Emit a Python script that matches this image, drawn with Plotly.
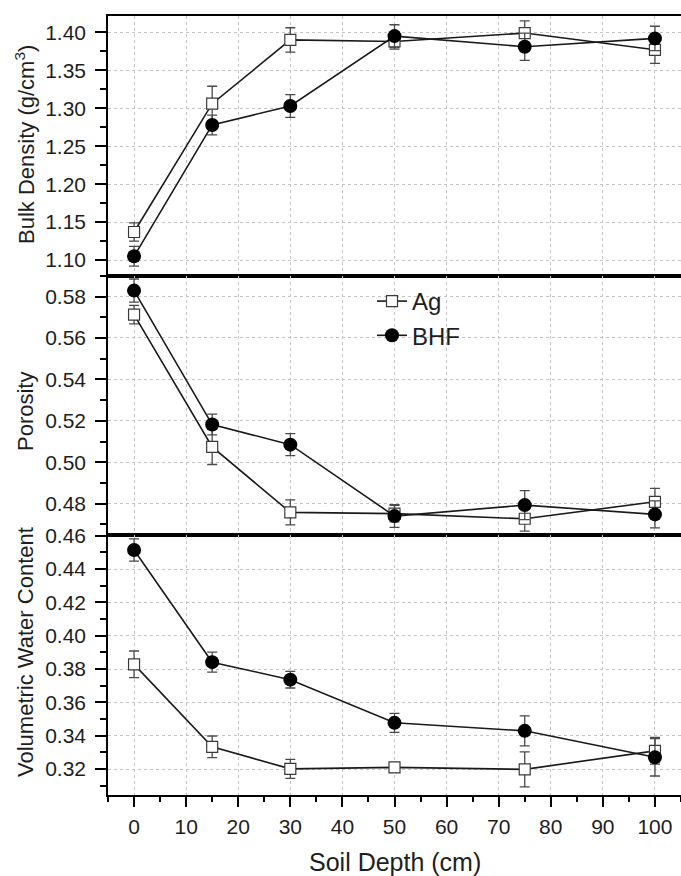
import plotly.graph_objects as go
from plotly.subplots import make_subplots

depth = [0, 15, 30, 50, 75, 100]

bd_ag = [1.137, 1.306, 1.390, 1.388, 1.399, 1.377]
bd_ag_err = [0.012, 0.023, 0.016, 0.010, 0.016, 0.018]
bd_bhf = [1.105, 1.278, 1.303, 1.395, 1.381, 1.392]
bd_bhf_err = [0.013, 0.013, 0.015, 0.015, 0.018, 0.016]

por_ag = [0.5713, 0.5074, 0.4758, 0.4752, 0.4727, 0.4809]
por_ag_err = [0.0045, 0.0085, 0.006, 0.004, 0.006, 0.0065]
por_bhf = [0.5829, 0.5182, 0.5085, 0.4740, 0.4793, 0.4748]
por_bhf_err = [0.0056, 0.005, 0.0053, 0.0055, 0.007, 0.0065]

vwc_ag = [0.3828, 0.3333, 0.3201, 0.3210, 0.3198, 0.3309]
vwc_ag_err = [0.008, 0.0065, 0.0057, 0.003, 0.0105, 0.008]
vwc_bhf = [0.4514, 0.3841, 0.3736, 0.3477, 0.3429, 0.3270]
vwc_bhf_err = [0.0067, 0.006, 0.005, 0.0057, 0.009, 0.0112]

y_titles = ["Bulk Density (g/cm<sup>3</sup>)", "Porosity", "Volumetric Water Content"]
x_title = "Soil Depth (cm)"

FONT = "Liberation Sans, Arial, sans-serif"
TXT = "#1e1e1e"
W, H = 681, 876
ML, MR, MT, MB = 108, 0, 16, 81
PW = W - ML - MR
PH = H - MT - MB

fig = make_subplots(rows=3, cols=1, shared_xaxes=True, vertical_spacing=0)

panels = [
    (bd_ag, bd_ag_err, bd_bhf, bd_bhf_err),
    (por_ag, por_ag_err, por_bhf, por_bhf_err),
    (vwc_ag, vwc_ag_err, vwc_bhf, vwc_bhf_err),
]

for i, (ag, agerr, bhf, bhferr) in enumerate(panels):
    row = i + 1
    fig.add_trace(go.Scatter(
        x=depth, y=ag, name="Ag", mode="lines+markers",
        line=dict(color="#1a1a1a", width=1.6),
        marker=dict(symbol="square", size=11, color="white",
                    line=dict(color="#3a3a3a", width=1.2)),
        error_y=dict(type="data", array=agerr, visible=True,
                     color="#4a4a4a", thickness=1.3, width=5),
        showlegend=(i == 0), legendgroup="ag"), row=row, col=1)
    fig.add_trace(go.Scatter(
        x=depth, y=bhf, name="BHF", mode="lines+markers",
        line=dict(color="#1a1a1a", width=1.6),
        marker=dict(symbol="circle", size=14, color="black",
                    line=dict(color="black", width=0)),
        error_y=dict(type="data", array=bhferr, visible=True,
                     color="#4a4a4a", thickness=1.3, width=5),
        showlegend=(i == 0), legendgroup="bhf"), row=row, col=1)

grid = dict(showgrid=True, gridcolor="#c4c4c4", griddash="dot", gridwidth=1)

for r in (1, 2, 3):
    fig.update_xaxes(range=[-5, 105], dtick=10, tick0=0,
                     showline=True, linecolor="black", linewidth=1.6, mirror=True,
                     zeroline=False, **grid, row=r, col=1)
fig.update_xaxes(ticks="", showticklabels=False, row=1, col=1)
fig.update_xaxes(ticks="", showticklabels=False, row=2, col=1)
fig.update_xaxes(ticks="outside", ticklen=10, tickwidth=1.5, tickcolor="black",
                 showticklabels=True, ticklabelstandoff=2,
                 tickfont=dict(family=FONT, size=21, color=TXT),
                 minor=dict(ticks="outside", ticklen=5, dtick=5, tickwidth=1.5,
                            tickcolor="black", showgrid=False),
                 row=3, col=1)

yspecs = [
    ([1.0795, 1.4215], 0.05, 0.025, ".2f"),
    ([0.4647, 0.5901], 0.02, 0.01, ".2f"),
    ([0.3044, 0.4602], 0.02, 0.01, ".2f"),
]
for i, (rng, dt, mdt, fmt) in enumerate(yspecs):
    fig.update_yaxes(range=rng, dtick=dt, tick0=0, tickformat=fmt,
                     showline=True, linecolor="black", linewidth=1.6, mirror=False,
                     zeroline=False, ticks="outside", ticklen=11, tickwidth=1.5,
                     tickcolor="black", ticklabelstandoff=5,
                     tickfont=dict(family=FONT, size=21, color=TXT),
                     minor=dict(ticks="outside", ticklen=6, dtick=mdt, tickwidth=1.5,
                                tickcolor="black", showgrid=False),
                     **grid, row=i + 1, col=1)

def px_to_paper_x(px):
    return (px - ML) / PW

def px_to_paper_y(py):
    return (H - MB - py) / PH

annotations = []
for t, cy in zip(y_titles, [145, 412, 652]):
    annotations.append(dict(text=t, xref="paper", yref="paper",
                            x=px_to_paper_x(25), y=px_to_paper_y(cy),
                            xanchor="center", yanchor="middle", textangle=-90,
                            showarrow=False,
                            font=dict(family=FONT, size=22, color=TXT)))
annotations.append(dict(text=x_title, xref="paper", yref="paper",
                        x=0.5, y=px_to_paper_y(862),
                        xanchor="center", yanchor="middle", showarrow=False,
                        font=dict(family=FONT, size=25, color=TXT)))

fig.update_layout(
    width=W, height=H,
    margin=dict(l=ML, r=MR, t=MT, b=MB),
    paper_bgcolor="white", plot_bgcolor="white",
    font=dict(family=FONT, color=TXT),
    showlegend=True,
    legend=dict(x=px_to_paper_x(372), y=px_to_paper_y(279), xanchor="left", yanchor="top",
                bgcolor="rgba(0,0,0,0)", borderwidth=0,
                font=dict(family=FONT, size=24, color=TXT),
                tracegroupgap=0),
    annotations=annotations,
)

fig.write_html("out.html")
